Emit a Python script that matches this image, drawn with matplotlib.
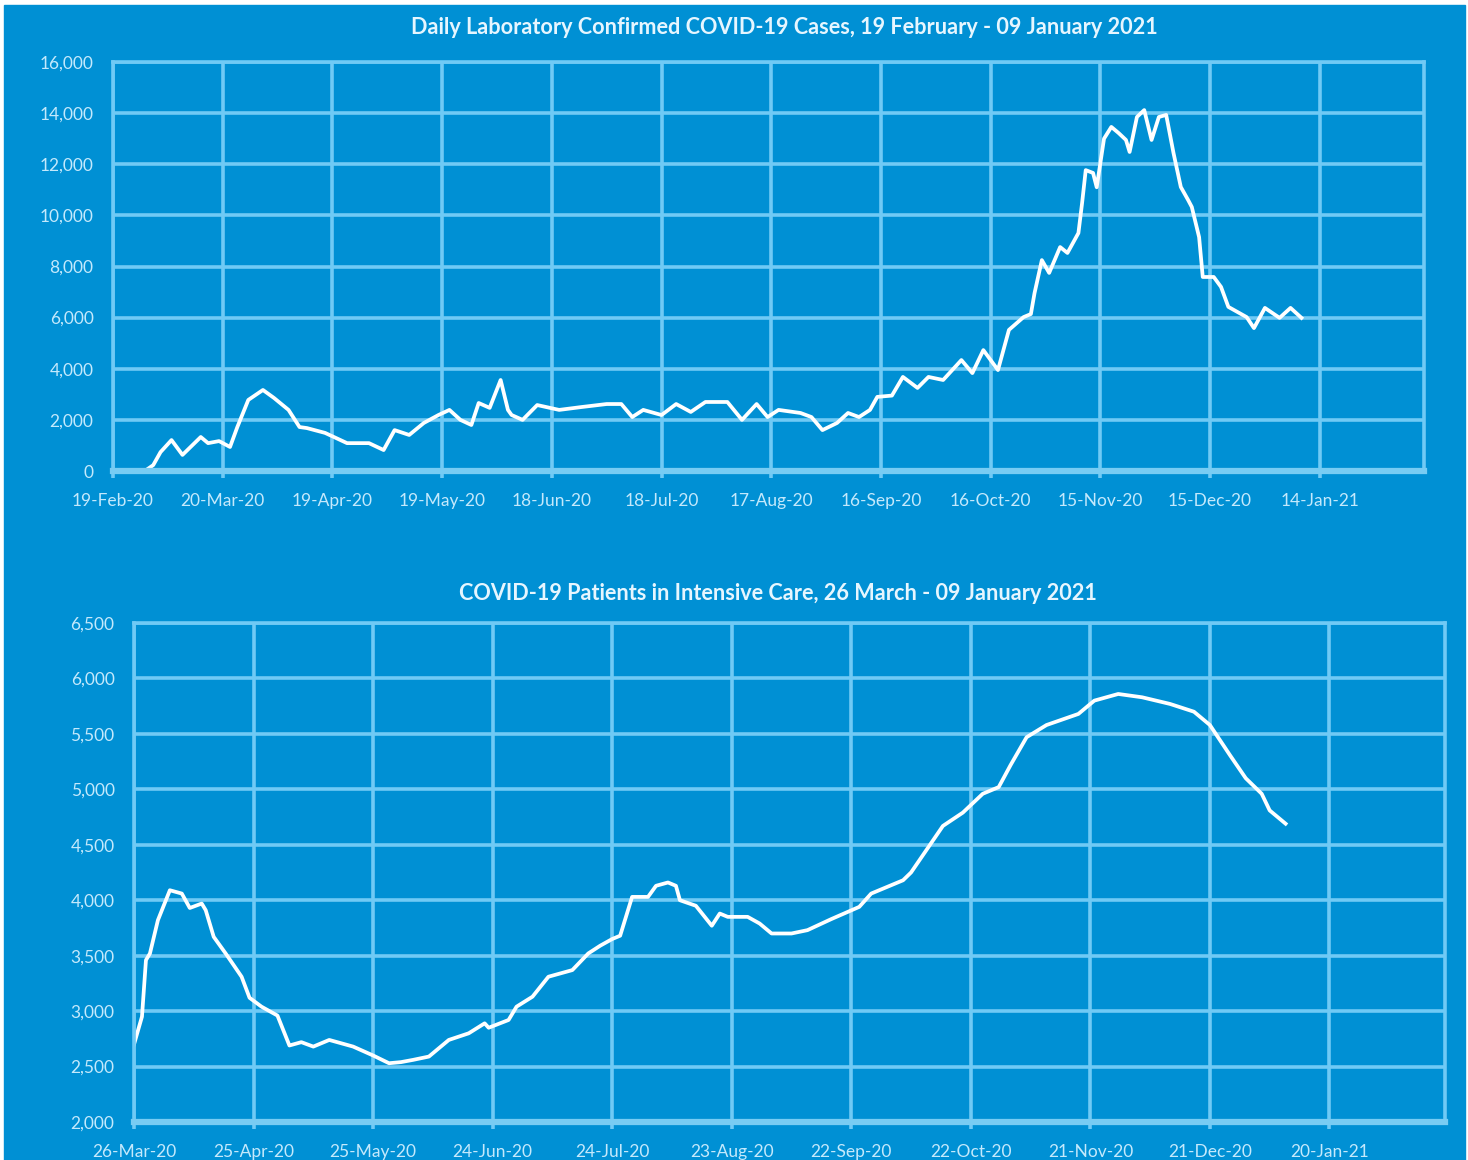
import matplotlib
matplotlib.use('Agg')
import matplotlib.pyplot as plt
from matplotlib.patches import Rectangle

# Daily confirmed cases (day 0 = 19 Feb 2020)
case_days = [0, 9, 11, 13, 16, 19, 24, 26, 29, 32, 34, 37, 41, 44, 48, 51, 53, 58,
             64, 70, 74, 77, 81, 85, 89, 92, 95, 98, 100, 103, 106, 108, 109, 112,
             116, 122, 128, 135, 139, 142, 145, 150, 154, 158, 162, 168, 172, 176,
             179, 182, 188, 191, 194, 198, 201, 204, 207, 209, 213, 216, 220, 223,
             227, 232, 235, 238, 242, 245, 249, 251, 252, 254, 256, 259, 261, 264,
             265, 266, 268, 269, 271, 273, 275, 277, 278, 280, 282, 284, 286, 288,
             290, 292, 294, 295, 297, 298, 301, 303, 305, 308, 310, 312, 315, 319,
             322, 325]
case_vals = [0, 30, 230, 740, 1210, 630, 1330, 1090, 1170, 940, 1720, 2780, 3170,
             2860, 2390, 1720, 1680, 1490, 1090, 1090, 820, 1600, 1410, 1880, 2190,
             2390, 2000, 1800, 2660, 2470, 3560, 2390, 2190, 2000, 2580, 2390, 2500,
             2620, 2620, 2110, 2390, 2190, 2620, 2310, 2700, 2700, 2000, 2620, 2110,
             2390, 2270, 2110, 1600, 1880, 2270, 2110, 2390, 2900, 2950, 3680, 3250,
             3680, 3560, 4340, 3830, 4730, 3950, 5520, 6020, 6140, 6960, 8250, 7750,
             8760, 8530, 9310, 10480, 11770, 11660, 11100, 13000, 13460, 13220, 12950,
             12480, 13850, 14120, 12950, 13850, 13930, 12440, 11110, 10600, 10330,
             9150, 7590, 7590, 7200, 6420, 6180, 6020, 5590, 6380, 5990, 6380, 5990]

# Patients in intensive care (day 0 = 26 Mar 2020)
icu_days = [0, 2, 3, 4, 6, 9, 12, 14, 17, 18, 20, 23, 27, 29, 32, 36, 39, 42, 45,
            49, 55, 60, 64, 67, 70, 74, 77, 79, 84, 88, 89, 94, 96, 100, 104, 110,
            114, 117, 120, 122, 125, 129, 131, 134, 136, 137, 141, 145, 147, 149,
            154, 157, 160, 165, 169, 175, 182, 185, 193, 195, 199, 203, 208, 213,
            217, 220, 224, 229, 237, 241, 247, 253, 260, 266, 270, 275, 279, 283,
            285, 289]
icu_vals = [2700, 2950, 3460, 3520, 3820, 4090, 4060, 3930, 3970, 3910, 3670, 3520,
            3310, 3120, 3040, 2960, 2690, 2720, 2680, 2740, 2680, 2600, 2530, 2540,
            2560, 2590, 2680, 2740, 2800, 2890, 2850, 2920, 3040, 3130, 3310, 3370,
            3520, 3590, 3650, 3680, 4030, 4030, 4130, 4160, 4130, 4000, 3950, 3770,
            3880, 3850, 3850, 3790, 3700, 3700, 3730, 3830, 3940, 4060, 4180, 4250,
            4460, 4670, 4790, 4960, 5020, 5220, 5470, 5580, 5680, 5800, 5860, 5830,
            5770, 5700, 5580, 5310, 5100, 4960, 4810, 4690]

case_ticks = ['19-Feb-20', '20-Mar-20', '19-Apr-20', '19-May-20', '18-Jun-20',
              '18-Jul-20', '17-Aug-20', '16-Sep-20', '16-Oct-20', '15-Nov-20',
              '15-Dec-20', '14-Jan-21']
icu_ticks = ['26-Mar-20', '25-Apr-20', '25-May-20', '24-Jun-20', '24-Jul-20',
             '23-Aug-20', '22-Sep-20', '22-Oct-20', '21-Nov-20', '21-Dec-20',
             '20-Jan-21']

title_cases = 'Daily Laboratory Confirmed COVID-19 Cases, 19 February - 09 January 2021'
title_icu = 'COVID-19 Patients in Intensive Care, 26 March - 09 January 2021'

BG = '#0090d4'
GRID = '#70caf5'
LABEL = '#c4e9fc'
TITLE = '#e6f6ff'

plt.rcParams['font.family'] = ['Lato', 'DejaVu Sans']

W, H = 1468, 1160
fig = plt.figure(figsize=(W / 100, H / 100), dpi=100, facecolor='white')
fig.patches.append(Rectangle((4 / W, 0), (W - 7) / W, (H - 5) / H,
                             transform=fig.transFigure, color=BG, zorder=-10))


def px_axes(left, top, right, bottom):
    return fig.add_axes([left / W, 1 - bottom / H, (right - left) / W, (bottom - top) / H])


def style(ax, ticks, xmax, ymin, ymax, ystep):
    ax.set_facecolor(BG)
    ax.set_xlim(0, xmax)
    ax.set_ylim(ymin, ymax)
    ax.set_xticks([30 * i for i in range(len(ticks))])
    ax.set_xticklabels(ticks)
    ax.set_yticks(list(range(ymin, ymax + 1, ystep)))
    ax.yaxis.set_major_formatter(matplotlib.ticker.StrMethodFormatter('{x:,.0f}'))
    ax.grid(True, color=GRID, lw=2.6)
    ax.set_axisbelow(True)
    for s in ['top', 'right', 'left']:
        ax.spines[s].set_color(GRID)
        ax.spines[s].set_linewidth(2.6)
    ax.spines['bottom'].set_color('#78ccf3')
    ax.spines['bottom'].set_linewidth(4.5)
    ax.tick_params(axis='x', length=5, width=2.6, color=GRID, pad=11,
                   labelsize=12.5, labelcolor=LABEL)
    ax.tick_params(axis='y', length=0, pad=14, labelsize=12.5, labelcolor=LABEL)


ax1 = px_axes(113, 62, 1424, 471)
ax1.plot(case_days, case_vals, color='white', lw=2.7, solid_joinstyle='round')
style(ax1, case_ticks, 358.5, 0, 16000, 2000)
fig.text(784 / W, 1 - 28 / H, title_cases, ha='center', va='center',
         fontsize=15.6, fontweight='bold', color=TITLE)

ax2 = px_axes(134, 623, 1445, 1122)
ax2.plot(icu_days, icu_vals, color='white', lw=2.7, solid_joinstyle='round')
style(ax2, icu_ticks, 329, 2000, 6500, 500)
fig.text(778 / W, 1 - 593 / H, title_icu, ha='center', va='center',
         fontsize=15.6, fontweight='bold', color=TITLE)

fig.savefig('out.png', dpi=100, facecolor='white')
